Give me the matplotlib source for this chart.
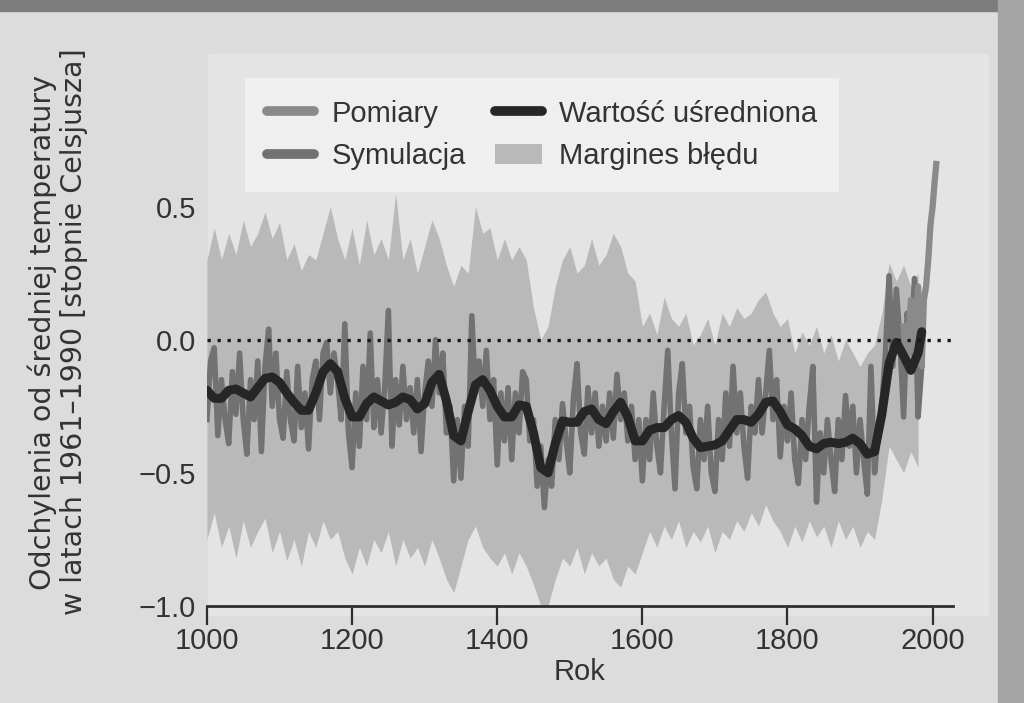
import matplotlib
matplotlib.use("Agg")
import matplotlib.pyplot as plt
from matplotlib.patches import Rectangle, Patch
from matplotlib.lines import Line2D

# --- dane ---
sim_years = list(range(1000, 1990, 5))
sim_vals = [
    -0.30, -0.08, -0.03, -0.36, -0.15, -0.30, -0.39, -0.12, -0.28, -0.05,
    -0.30, -0.43, -0.15, -0.30, -0.08, -0.42, -0.10, 0.04, -0.25, -0.05,
    -0.30, -0.37, -0.12, -0.30, -0.38, -0.10, -0.33, -0.20, -0.41, -0.15,
    -0.08, -0.30, -0.05, -0.01, -0.20, -0.05, -0.15, -0.30, 0.06, -0.35,
    -0.48, -0.20, -0.40, -0.10, -0.30, 0.025, -0.33, -0.15, -0.35, -0.18,
    0.11, -0.40, -0.15, -0.32, -0.10, -0.30, -0.18, -0.35, -0.15, -0.42,
    -0.20, -0.08, -0.25, 0.00, -0.20, -0.05, -0.35, -0.25, -0.53, -0.30,
    -0.52, -0.25, -0.40, 0.09, -0.20, -0.08, -0.25, -0.04, -0.30, -0.15,
    -0.47, -0.20, -0.38, -0.18, -0.45, -0.20, -0.35, -0.12, -0.15, -0.38,
    -0.30, -0.55, -0.40, -0.63, -0.45, -0.55, -0.30, -0.45, -0.24, -0.38,
    -0.50, -0.22, -0.09, -0.35, -0.43, -0.18, -0.35, -0.20, -0.40, -0.25,
    -0.38, -0.20, -0.37, -0.13, -0.30, -0.20, -0.38, -0.25, -0.45, -0.30,
    -0.53, -0.30, -0.45, -0.20, -0.40, -0.50, -0.25, -0.04, -0.35, -0.56,
    -0.20, -0.09, -0.35, -0.25, -0.48, -0.56, -0.30, -0.45, -0.25, -0.50,
    -0.57, -0.30, -0.45, -0.20, -0.40, -0.10, -0.35, -0.20, -0.40, -0.52,
    -0.25, -0.35, -0.15, -0.35, -0.20, -0.04, -0.30, -0.15, -0.44, -0.25,
    -0.38, -0.20, -0.45, -0.54, -0.30, -0.45, -0.25, -0.10, -0.61, -0.35,
    -0.50, -0.30, -0.45, -0.57, -0.30, -0.45, -0.21, -0.40, -0.25, -0.50,
    -0.30, -0.45, -0.58, -0.10, -0.50, -0.35, -0.25, -0.05, 0.24, -0.10,
    0.19, 0.00, -0.29, 0.10, -0.05, 0.23, -0.29, -0.10,
]

band_years = list(range(1000, 1990, 10))
band_upper = [
    0.30, 0.42, 0.30, 0.40, 0.32, 0.45, 0.35, 0.40, 0.48, 0.38,
    0.44, 0.30, 0.36, 0.26, 0.32, 0.30, 0.40, 0.50, 0.38, 0.30,
    0.42, 0.28, 0.45, 0.32, 0.38, 0.30, 0.55, 0.30, 0.38, 0.25,
    0.35, 0.45, 0.38, 0.28, 0.20, 0.28, 0.25, 0.50, 0.40, 0.42,
    0.30, 0.38, 0.30, 0.35, 0.30, 0.12, 0.00, 0.05, 0.20, 0.30,
    0.35, 0.25, 0.28, 0.38, 0.28, 0.32, 0.40, 0.35, 0.25, 0.22,
    0.05, 0.10, 0.02, 0.16, 0.08, 0.05, 0.10, -0.02, 0.02, 0.08,
    -0.02, 0.10, 0.05, 0.12, 0.08, 0.10, 0.15, 0.18, 0.10, 0.05,
    0.08, -0.05, 0.03, -0.02, 0.05, -0.05, 0.02, -0.08, 0.00, -0.05,
    -0.10, -0.05, -0.02, 0.10, 0.29, 0.22, 0.28, 0.20, 0.25,
]
band_lower = [
    -0.75, -0.65, -0.78, -0.70, -0.82, -0.68, -0.78, -0.72, -0.67, -0.80,
    -0.72, -0.83, -0.75, -0.85, -0.72, -0.78, -0.68, -0.75, -0.72, -0.82,
    -0.88, -0.78, -0.85, -0.75, -0.80, -0.72, -0.85, -0.75, -0.82, -0.78,
    -0.85, -0.75, -0.82, -0.90, -0.95, -0.85, -0.75, -0.70, -0.78, -0.82,
    -0.85, -0.80, -0.88, -0.80, -0.85, -0.92, -1.00, -1.00, -0.90, -0.82,
    -0.85, -0.78, -0.88, -0.80, -0.85, -0.82, -0.90, -0.93, -0.85, -0.88,
    -0.80, -0.72, -0.78, -0.70, -0.75, -0.68, -0.78, -0.72, -0.76, -0.70,
    -0.80, -0.72, -0.75, -0.68, -0.72, -0.65, -0.70, -0.62, -0.68, -0.72,
    -0.78, -0.70, -0.76, -0.68, -0.74, -0.70, -0.78, -0.68, -0.75, -0.70,
    -0.78, -0.72, -0.75, -0.60, -0.40, -0.45, -0.50, -0.42, -0.48,
]

smooth_years = list(range(1000, 1990, 10)) + [1985]
smooth_vals = [
    -0.19, -0.22, -0.22, -0.19, -0.185, -0.20, -0.215, -0.18, -0.145, -0.14,
    -0.16, -0.20, -0.235, -0.265, -0.265, -0.20, -0.12, -0.09, -0.12, -0.22,
    -0.29, -0.29, -0.24, -0.215, -0.23, -0.245, -0.235, -0.215, -0.225, -0.26,
    -0.24, -0.16, -0.13, -0.23, -0.36, -0.38, -0.27, -0.17, -0.15, -0.19,
    -0.25, -0.29, -0.29, -0.245, -0.25, -0.35, -0.48, -0.50, -0.39, -0.305,
    -0.31, -0.31, -0.27, -0.26, -0.30, -0.315, -0.27, -0.235, -0.29, -0.38,
    -0.38, -0.34, -0.33, -0.33, -0.30, -0.285, -0.31, -0.37, -0.405, -0.40,
    -0.395, -0.38, -0.34, -0.30, -0.30, -0.31, -0.28, -0.235, -0.23, -0.27,
    -0.32, -0.335, -0.36, -0.40, -0.41, -0.39, -0.385, -0.39, -0.385, -0.37,
    -0.39, -0.43, -0.42, -0.28, -0.09, -0.01, -0.06, -0.115, -0.05, 0.03,
]

meas_years = [1960, 1965, 1970, 1975, 1980, 1985, 1988, 1991, 1994, 1997, 2000, 2003, 2005]
meas_vals = [0.05, -0.10, 0.15, -0.05, 0.20, -0.10, 0.15, 0.20, 0.30, 0.43, 0.50, 0.60, 0.66]

xticks = [1000, 1200, 1400, 1600, 1800, 2000]
yticks = [-1.0, -0.5, 0.0, 0.5]
ytick_labels = ["\u22121.0", "\u22120.5", "0.0", "0.5"]

c_band = "#b9b9b9"
c_sim = "#727272"
c_meas = "#8a8a8a"
c_smooth = "#262626"

plt.rcParams['font.family'] = ['Liberation Sans', 'DejaVu Sans']

fig = plt.figure(figsize=(10.24, 7.03), dpi=100, facecolor="#dcdcdc")
# ciemne paski skanu u gory i z prawej, jasniejsze pole wykresu
fig.patches.append(Rectangle((0, 0.985), 1, 0.015, transform=fig.transFigure, color="#7c7c7c", zorder=0))
fig.patches.append(Rectangle((0.975, 0), 0.025, 1, transform=fig.transFigure, color="#a4a4a4", zorder=0))
fig.patches.append(Rectangle((0.203, 0.125), 0.762, 0.798, transform=fig.transFigure, color="#e4e4e4", zorder=0))

ax = fig.add_axes([0.2021, 0.138, 0.7285, 0.784])
ax.set_zorder(2)
ax.set_facecolor("none")

ax.fill_between(band_years, band_lower, band_upper, color=c_band, lw=0, zorder=1)
ax.plot(sim_years, sim_vals, color=c_sim, lw=4, zorder=2)
ax.plot(meas_years, meas_vals, color=c_meas, lw=4.5, zorder=3)
ax.plot(smooth_years, smooth_vals, color=c_smooth, lw=6.5, solid_capstyle="round",
        solid_joinstyle="round", zorder=4)
ax.plot([1000, 2030], [0, 0], color="#1a1a1a", lw=2.4, ls=(0, (1, 2)), zorder=5)

ax.set_xlim(1000, 2028)
ax.set_ylim(-1.0, 1.07)
for s in ["left", "top", "right"]:
    ax.spines[s].set_visible(False)
ax.spines["bottom"].set_color("#2e2e2e")
ax.spines["bottom"].set_linewidth(2)

ax.set_xticks(xticks)
ax.set_yticks(yticks)
ax.set_yticklabels(ytick_labels)
ax.tick_params(axis="x", direction="out", length=14, width=1.6, color="#2e2e2e",
               labelsize=21, labelcolor="#333333", pad=1)
ax.tick_params(axis="y", length=0, labelsize=21, labelcolor="#333333", pad=8)

ax.set_xlabel("Rok", fontsize=21, color="#333333", labelpad=2)
ax.set_ylabel("Odchylenia od średniej temperatury\nw latach 1961\u20131990 [stopnie Celsjusza]",
              fontsize=20.5, color="#333333", linespacing=1.1,
              family=['DejaVu Sans'])
ax.yaxis.set_label_coords(-0.16, 0.497)

handles = [
    Line2D([], [], color=c_meas, lw=7, solid_capstyle="round"),
    Line2D([], [], color=c_sim, lw=7, solid_capstyle="round"),
    Line2D([], [], color=c_smooth, lw=7, solid_capstyle="round"),
    Patch(facecolor=c_band, edgecolor="none"),
]
labels = ["Pomiary", "Symulacja", "Wartość uśredniona", "Margines błędu"]
leg = ax.legend(handles, labels, ncol=2, loc="upper left", bbox_to_anchor=(0.032, 0.985),
                frameon=True, fontsize=21, handlelength=1.6, handletextpad=0.6,
                columnspacing=1.0, labelspacing=0.5, borderpad=0.75, labelcolor="#333333")
leg.get_frame().set_facecolor("#efefef")
leg.get_frame().set_edgecolor("none")
leg.get_frame().set_alpha(1)
leg.get_frame().set_boxstyle("square", pad=0)

fig.savefig("out.png", dpi=100, facecolor=fig.get_facecolor())
